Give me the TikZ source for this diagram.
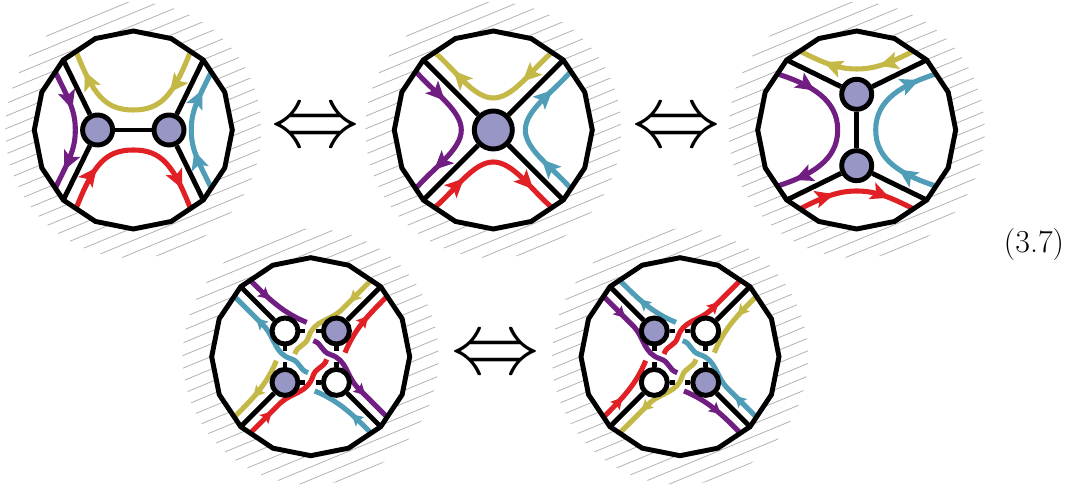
\documentclass[tikz,border=0pt]{standalone}
\usepackage{amsmath}
\usepackage{xcolor}
\usepackage{tikz}
\usetikzlibrary{
  arrows.meta,
  positioning,
  decorations.markings}
\definecolor{strandyellow}{HTML}{C4B846}
\definecolor{strandpurple}{HTML}{701E82}
\definecolor{strandblue}{HTML}{509DB8}
\definecolor{strandred}{HTML}{E02024}
\definecolor{blobblue}{HTML}{9896C4}
\tikzset{
  bigtip/.tip={Stealth[length=14pt,width=13pt,inset=3pt]},
  smalltip/.tip={Stealth[length=8.5pt,width=9pt,inset=1.5pt]},
  rim/.style={line width=3.7pt},
  leg/.style={line width=3.7pt},
  hatchline/.style={line width=0.6pt,gray!60},
  strand/.style={line width=3.8pt},
  twoheads/.style 2 args={strand,postaction={decorate},decoration={markings,
    mark=at position #1 with {\arrow{bigtip}},
    mark=at position #2 with {\arrow{bigtip}}}},
  onehead/.style 2 args={strand,postaction={decorate},decoration={markings,
    mark=at position #1 with {#2{smalltip}}}},
  blob/.style={circle,draw,line width=3.7pt,fill=blobblue,inner sep=0pt,minimum size=22.5pt},
  bigblob/.style={blob,minimum size=28.5pt},
  smallblob/.style={blob,minimum size=19.5pt},
  holeblob/.style={smallblob,fill=white},
  equivsign/.style={inner sep=0pt}
}
% hatching, white disk and its corners, centred on the current origin
\newcommand{\diskbase}{
  \begin{scope}
    \clip (0,0) circle (128);
    \begin{scope}[rotate=22.5]
      \foreach \k in {-11,...,11}{
        \draw[hatchline] (-130,3.2+11.68*\k) -- (130,3.2+11.68*\k);
      }
    \end{scope}
  \end{scope}
  \foreach \i in {1,...,16}{
    \coordinate (p\i) at (\i*22.5:99);
  }
  \fill[white] (p1) \foreach \i in {2,...,16}{ -- (p\i)} -- cycle;
}
\newcommand{\diskrim}{
  \draw[rim] (p1) \foreach \i in {2,...,16}{ -- (p\i)} -- cycle;
}
% one strand of the lower row, broken where another one passes
\newcommand{\twist}[3]{
  \begin{scope}[rotate=#1]
    \draw[draw=#2,onehead={0.38}{#3}] (-60,76) .. controls (-42,58) and (-28,44) .. (-4,34.3);
    \draw[draw=#2,onehead={0.72}{#3}] (2.7,16) .. controls (12,13) and (10,5) .. (20,2)
      .. controls (36,-3) and (36,-19) .. (46,-30) .. controls (56,-40) and (66,-50) .. (76,-60);
  \end{scope}
}
% four small vertices with their legs and stubs
\newcommand{\crossing}[2]{
  \node[#1] (ul) at (-25.7,25.7) {};
  \node[#2] (ur) at (25.7,25.7) {};
  \node[#2] (ll) at (-25.7,-25.7) {};
  \node[#1] (lr) at (25.7,-25.7) {};
  \draw[leg] (ul) -- (p6);
  \draw[leg] (ur) -- (p2);
  \draw[leg] (ll) -- (p10);
  \draw[leg] (lr) -- (p14);
  \draw[leg] (ul.east) -- ++(5,0);
  \draw[leg] (ul.south) -- ++(0,-5);
  \draw[leg] (ur.west) -- ++(-5,0);
  \draw[leg] (ur.south) -- ++(0,-5);
  \draw[leg] (ll.east) -- ++(5,0);
  \draw[leg] (ll.north) -- ++(0,5);
  \draw[leg] (lr.west) -- ++(-5,0);
  \draw[leg] (lr.north) -- ++(0,5);
}
\begin{document}
\begin{tikzpicture}[x=0.75pt,y=0.75pt]
\useasboundingbox (0,0) rectangle (1078,491);

% top left
\begin{scope}[shift={(133.3,361)}]
  \diskbase
  \foreach \col/\ang in {strandyellow/0,strandred/180}{
    \draw[draw=\col,twoheads={0.26}{0.88},rotate=\ang] (57,78) .. controls (40,35) and (28,20) .. (0,20)
      .. controls (-28,20) and (-40,35) .. (-57,78);
  }
  \foreach \col/\ang in {strandpurple/0,strandblue/180}{
    \draw[draw=\col,twoheads={0.33}{0.84},rotate=\ang] (-78,58) .. controls (-63,28) and (-58,18) .. (-58,0)
      .. controls (-58,-18) and (-63,-28) .. (-78,-58);
  }
  \node[blob] (v1) at (-35.7,0) {};
  \node[blob] (v2) at (35.7,0) {};
  \draw[leg] (v1) -- (v2);
  \draw[leg] (v1) -- (p6);
  \draw[leg] (v1) -- (p10);
  \draw[leg] (v2) -- (p2);
  \draw[leg] (v2) -- (p14);
  \diskrim
\end{scope}

% top middle
\begin{scope}[shift={(493.3,361)}]
  \diskbase
  \foreach \col/\ang in {strandyellow/0,strandpurple/90,strandred/180,strandblue/270}{
    \draw[draw=\col,twoheads={0.27}{0.83},rotate=\ang] (58,77) .. controls (38,60) and (20,32) .. (0,32)
      .. controls (-20,32) and (-38,60) .. (-58,77);
  }
  \node[bigblob] (w) at (0,0) {};
  \draw[leg] (w) -- (p2);
  \draw[leg] (w) -- (p6);
  \draw[leg] (w) -- (p10);
  \draw[leg] (w) -- (p14);
  \diskrim
\end{scope}

% top right
\begin{scope}[shift={(856.7,361)}]
  \diskbase
  \foreach \col/\ang in {strandyellow/0,strandred/180}{
    \draw[draw=\col,twoheads={0.31}{0.78},rotate=\ang] (57,79) .. controls (35,68) and (20,61) .. (0,61)
      .. controls (-20,61) and (-35,68) .. (-57,79);
  }
  \foreach \col/\ang in {strandpurple/0,strandblue/180}{
    \draw[draw=\col,twoheads={0.23}{0.9},rotate=\ang] (-79,56) .. controls (-45,45) and (-19,30) .. (-19,0)
      .. controls (-19,-30) and (-45,-45) .. (-79,-56);
  }
  \node[blob] (u1) at (0,35.7) {};
  \node[blob] (u2) at (0,-35.7) {};
  \draw[leg] (u1) -- (u2);
  \draw[leg] (u1) -- (p2);
  \draw[leg] (u1) -- (p6);
  \draw[leg] (u2) -- (p10);
  \draw[leg] (u2) -- (p14);
  \diskrim
\end{scope}

% bottom left
\begin{scope}[shift={(310.7,134.3)}]
  \diskbase
  \twist{0}{strandpurple}{\arrow}
  \twist{180}{strandblue}{\arrow}
  \twist{90}{strandyellow}{\arrowreversed}
  \twist{-90}{strandred}{\arrowreversed}
  \crossing{holeblob}{smallblob}
  \diskrim
\end{scope}

% bottom right
\begin{scope}[shift={(680,134.3)}]
  \diskbase
  \twist{0}{strandblue}{\arrowreversed}
  \twist{180}{strandpurple}{\arrowreversed}
  \twist{90}{strandred}{\arrow}
  \twist{-90}{strandyellow}{\arrow}
  \crossing{smallblob}{holeblob}
  \diskrim
\end{scope}

\node[equivsign] (eqa) at (315,361) {\scalebox{6.6}{$\Leftrightarrow$}};
\node[equivsign] (eqb) at (676,361) {\scalebox{6.6}{$\Leftrightarrow$}};
\node[equivsign] (eqc) at (495,134) {\scalebox{6.6}{$\Leftrightarrow$}};
\node (label) at (1034,246) {\fontsize{24}{28}\selectfont (3.7)};
\end{tikzpicture}
\end{document}
